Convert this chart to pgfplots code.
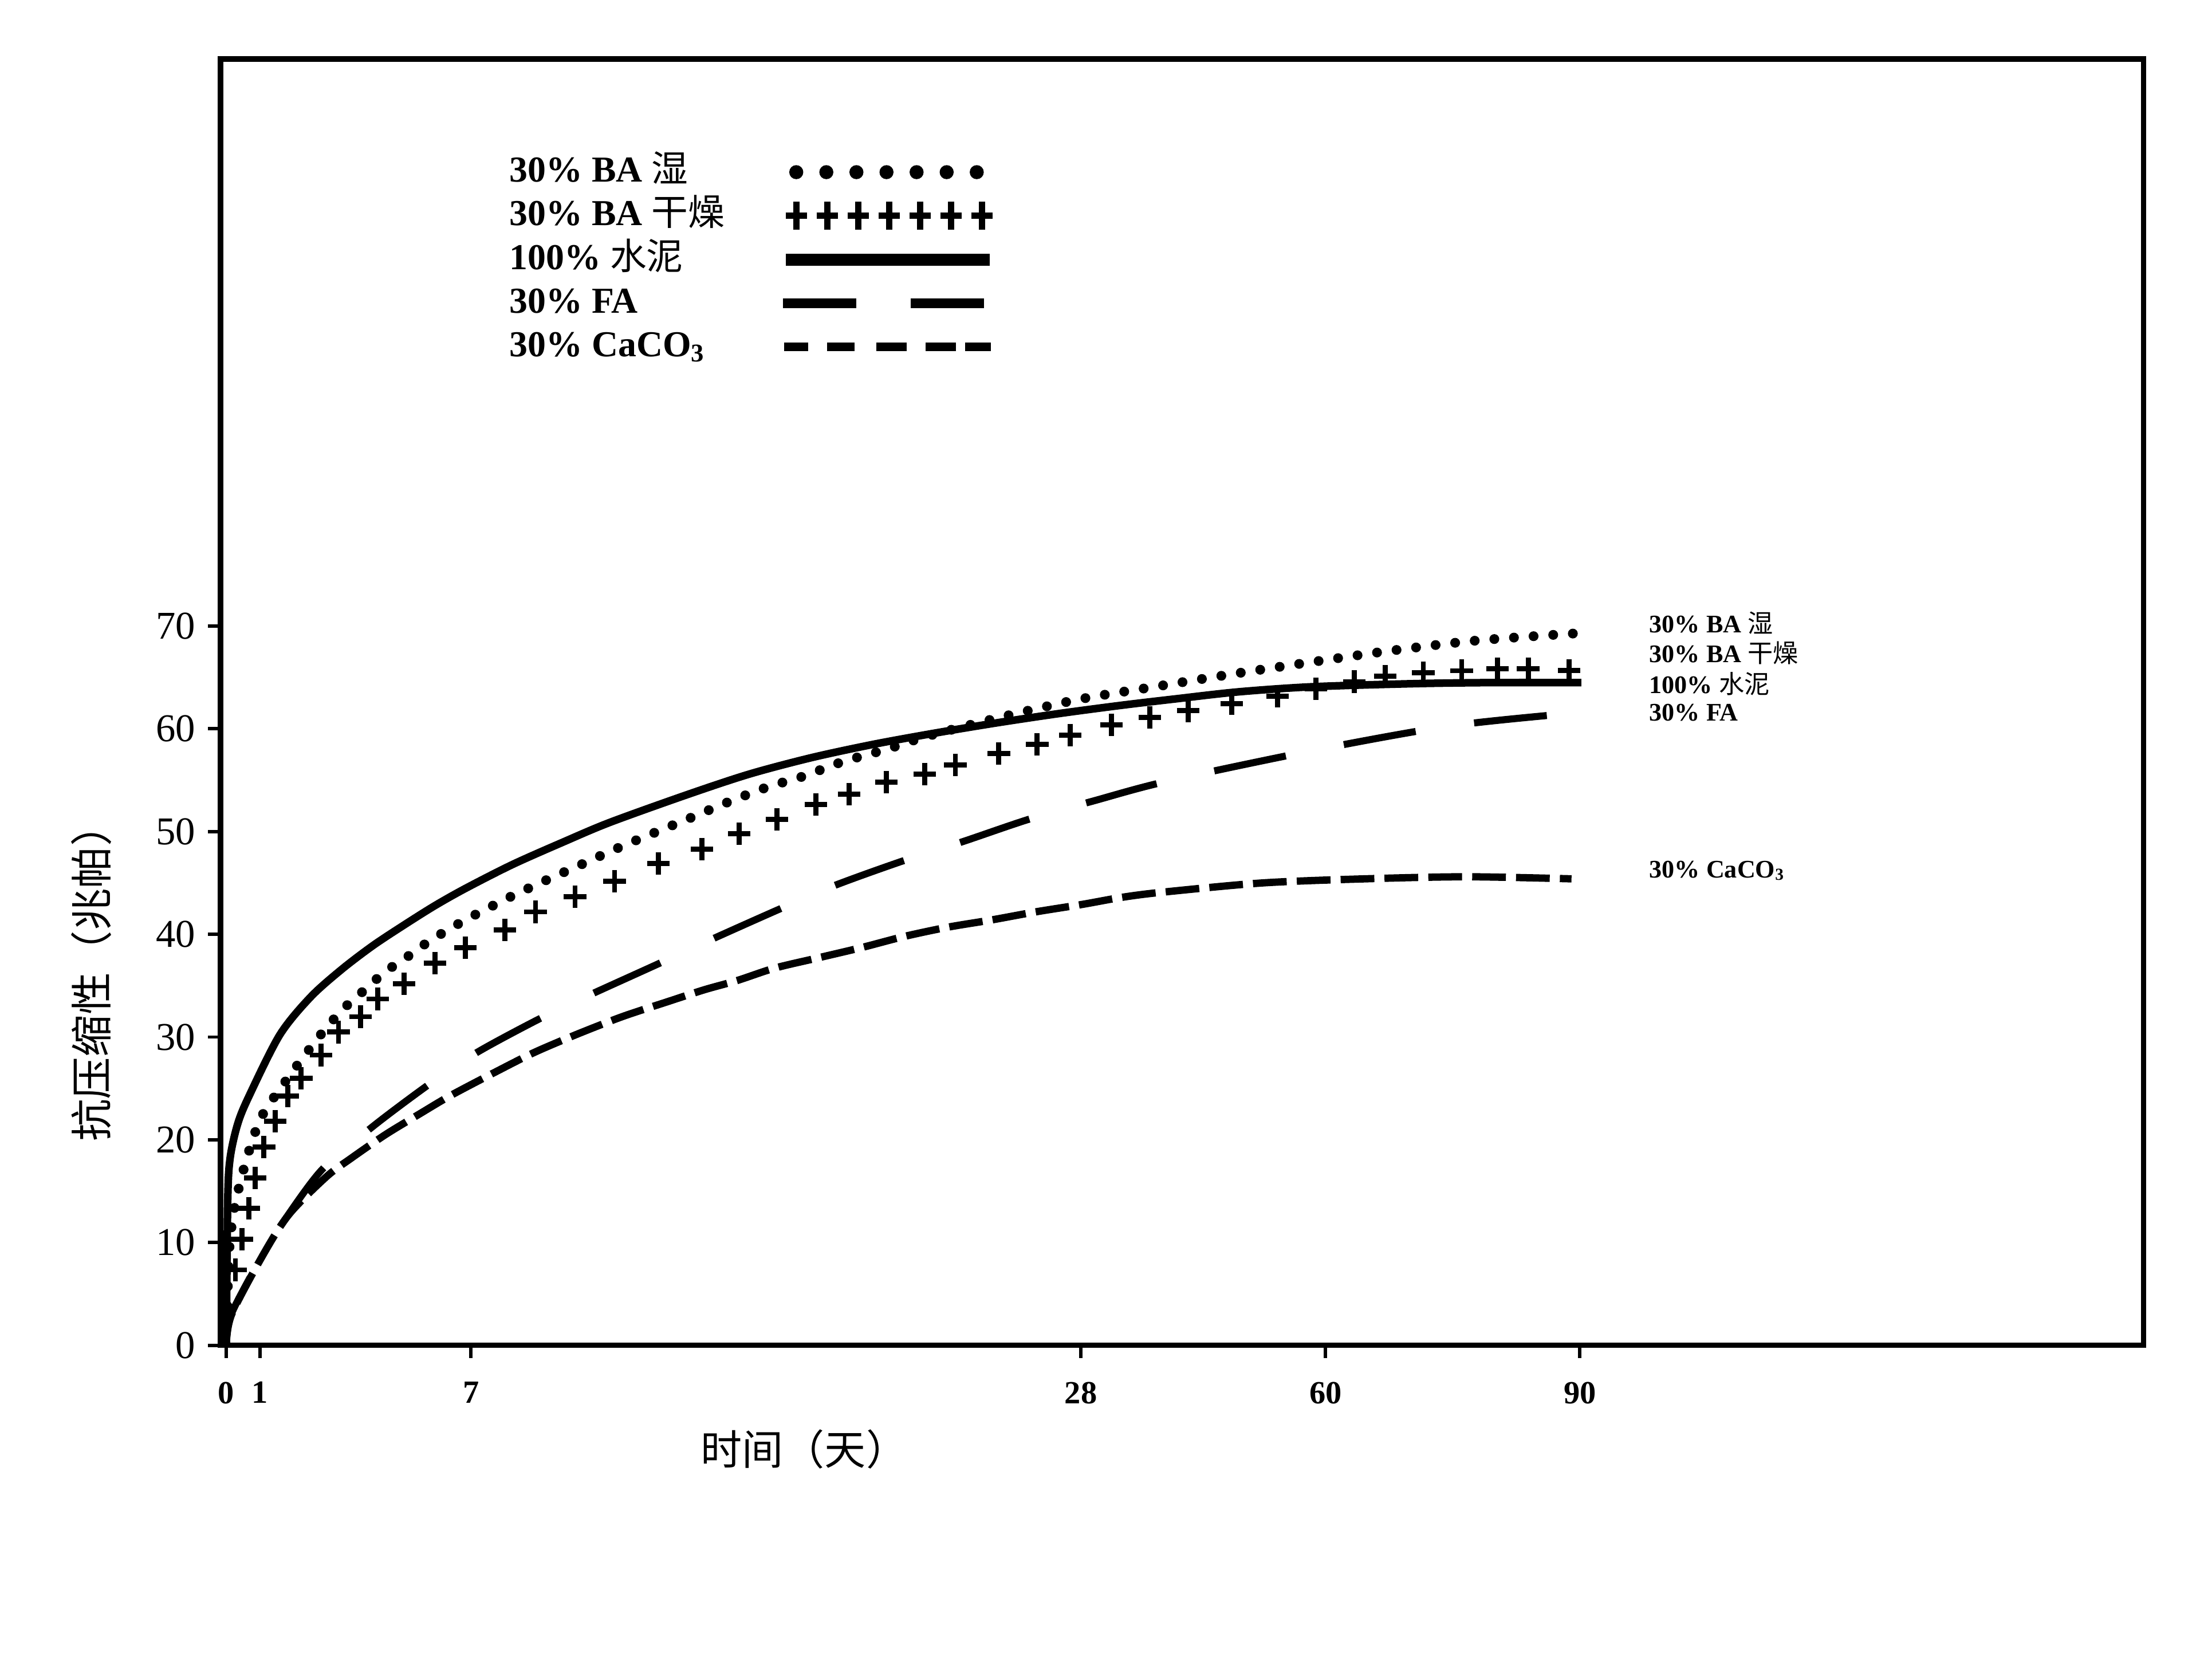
\documentclass[border=0pt]{standalone}
\usepackage{fontspec}
\setmainfont{Liberation Serif}
\newfontfamily\cjk{Noto Sans CJK SC}
\usepackage{pgfplots}
\pgfplotsset{compat=1.18}
\begin{document}
\begin{tikzpicture}
\useasboundingbox (0,0) rectangle (784pt,597.5pt);
\begin{axis}[
  at={(78.5pt,119pt)}, anchor=south west,
  scale only axis, width=684pt, height=457.5pt,
  xmin=-4, xmax=1364, ymin=0, ymax=125.2,
  axis line style={line width=2pt},
  xtick={0,24,174,608,782,963},
  xticklabels={0,1,7,28,60,90},
  ytick={0,10,20,30,40,50,60,70},
  yticklabels={0,10,20,30,40,50,60,70},
  xtick pos=lower, ytick pos=left,
  tick align=outside, major tick length=4.5pt,
  tick style={line width=1.2pt, black},
  xticklabel style={font=\bfseries\fontsize{11.5}{12}\selectfont, yshift=-5pt},
  yticklabel style={font=\fontsize{14}{15}\selectfont, xshift=-1pt},
  xlabel={\cjk 时间（天）},
  ylabel={\cjk 抗压缩性（兆帕）},
  every axis x label/.style={at={(rel axis cs:0.3034,-0.0809)}, anchor=center, font=\fontsize{14.7}{15}\selectfont},
  every axis y label/.style={at={(rel axis cs:-0.0673,0.2896)}, rotate=90, anchor=center, font=\fontsize{15}{16}\selectfont},
  legend plot pos=right,
  legend cell align=left,
  legend style={at={(rel axis cs:0.1499,0.9257)}, anchor=north west, draw=none, fill=none,
     font=\bfseries\fontsize{13}{14}\selectfont, inner sep=0pt, row sep=3.4pt,
     nodes={inner sep=0pt, text height=9.5pt, text depth=2.6pt},
     /tikz/every odd column/.append style={column sep=19pt}},
]
% 30% BA wet (dots)
\addplot[black, line width=3.5pt, line cap=round, dash pattern=on 0pt off 7pt, smooth, tension=0.5,
  legend image code/.code={\draw[black, line width=5pt, line cap=round, dash pattern=on 0pt off 10.7pt] (4.75pt,0pt) -- (70pt,0pt);}]
 coordinates {
 (0,0) (2,9) (6,13.5) (13.8,17.85) (22.6,21.5) (29.2,23.2) (38,24.9) (46.9,26.6) (55.7,28.2) (64.6,29.8)
 (75.6,31.6) (84.4,32.9) (94.4,34.1) (106.5,35.6) (118.7,36.9) (130.8,38.0) (144,39.3) (157.3,40.4)
 (172.8,41.6) (197,43.3) (209,44.1) (231.3,45.5) (251,46.7) (282,48.6) (331.4,51.4) (355.7,52.8)
 (384.4,54.3) (410.9,55.4) (438.5,56.8) (469.4,58.0) (499.2,59.3) (553,61.2) (607.7,62.9) (660.6,64.1)
 (718.8,65.4) (777,66.6) (828,67.6) (889.8,68.6) (960.8,69.3)};
\addlegendentry{30\% BA {\cjk\mdseries 湿}}
% 30% BA dry (plus marks)
\addplot[only marks, mark=+, mark size=4pt, mark options={line width=1.8pt, black},
  legend image code/.code={\foreach \xx in {4.75,15.75,26.75,37.75,48.75,59.75,70.75} {\draw[black, line width=2.2pt] (\xx pt-3.8pt,0pt)--(\xx pt+3.8pt,0pt) (\xx pt,-5pt)--(\xx pt,5pt);}}]
 coordinates {
 (6.5,7.34) (11.2,10.33) (15.9,13.32) (20.5,16.3) (26.8,19.29) (34.8,21.8) (43.9,24.26) (53.3,26.0)
 (67.3,28.24) (79.8,30.48) (95.4,31.98) (107.8,33.71) (126.5,35.2) (148.4,37.2) (170.2,38.7)
 (198.2,40.44) (220,42.18) (248.1,43.67) (276.2,45.17) (307.4,46.91) (338.5,48.3) (365,49.8)
 (391.6,51.2) (419.6,52.63) (443,53.63) (469.6,54.82) (496.9,55.6) (518.7,56.5) (549.6,57.6)
 (576.9,58.5) (600.5,59.4) (629.6,60.4) (657,61.1) (684.2,61.76) (715.2,62.47) (748,63.18)
 (775.2,63.89) (802.6,64.6) (824.4,65.13) (851.6,65.48) (878.9,65.66) (904.3,65.84) (926.2,65.84)
 (955.3,65.7)};
\addlegendentry{30\% BA {\cjk\mdseries 干燥}}
% 100% cement (solid)
\addplot[black, line width=2.7pt, smooth, tension=0.5,
  legend image code/.code={\draw[black, line width=4.2pt] (1pt,0pt) -- (73.5pt,0pt);}]
 coordinates {
 (0,0) (1,14) (2.7,18.2) (8,21.5) (16,24.2) (38,30.2) (60,33.9) (82.2,36.6) (104.3,38.9) (126.4,40.9)
 (148.5,42.8) (170.6,44.5) (203.7,46.8) (240,49.0) (273,50.9) (328,53.6) (372.2,55.6) (416.4,57.2)
 (460.6,58.5) (504.7,59.6) (548.9,60.6) (593,61.5) (637.2,62.3) (674.3,62.9) (720,63.6) (773,64.1)
 (846,64.4) (900,64.5) (964,64.5)};
\addlegendentry{100\% {\cjk\mdseries 水泥}}
% 30% FA (long dashes)
\addplot[black, line width=2.5pt, dash pattern=on 26pt off 21pt, smooth, tension=0.5,
  legend image code/.code={\draw[black, line width=3.4pt] (0pt,0pt) -- (27.2pt,0pt) (45.5pt,0pt) -- (72pt,0pt);}]
 coordinates {
 (0,0) (3.8,3.1) (27,9.1) (32.6,10.4) (66.8,16.9) (104.3,21.3) (146.3,25.6) (178.3,28.5) (220.3,31.6)
 (252.2,33.7) (305.3,37.0) (343.5,39.4) (391,42.3) (431.8,44.7) (480.4,47.1) (523.5,49.0) (571,51.2)
 (617.4,53.0) (669.3,54.9) (773.5,57.9) (871.7,60.3) (964,61.6)};
\addlegendentry{30\% FA}
% 30% CaCO3 (short dashes)
\addplot[black, line width=2.6pt, dash pattern=on 12pt off 3.6pt, smooth, tension=0.5,
  legend image code/.code={\draw[black, line width=3pt] (0.5pt,0pt)--(9pt,0pt) (15.8pt,0pt)--(25.5pt,0pt) (33.3pt,0pt)--(44pt,0pt) (50.8pt,0pt)--(61.5pt,0pt) (64.8pt,0pt)--(74pt,0pt);}]
 coordinates {
 (0,0) (3.8,3.0) (27,9.0) (45,12.8) (71.2,16.4) (88.8,18.2) (113.2,20.5) (138.5,22.6) (159.5,24.3)
 (191.5,26.6) (219.1,28.5) (250,30.3) (282,32.0) (313,33.4) (340,34.6) (363.4,35.5) (389.9,36.7)
 (420.8,37.7) (451.7,38.7) (482.6,39.8) (513.6,40.7) (544.5,41.4) (576.5,42.2) (608.5,42.9)
 (637.2,43.6) (666,44.1) (737,45.0) (810,45.4) (882.6,45.6) (957,45.4)};
\addlegendentry{30\% CaCO\textsubscript{3}}
\begin{scope}[every node/.style={anchor=west, font=\bfseries\fontsize{9}{9.5}\selectfont, inner sep=0pt}]
\node at (axis cs:1012,70.3) {30\% BA {\cjk\mdseries 湿}};
\node at (axis cs:1012,67.4) {30\% BA {\cjk\mdseries 干燥}};
\node at (axis cs:1012,64.4) {100\% {\cjk\mdseries 水泥}};
\node at (axis cs:1012,61.6) {30\% FA};
\node at (axis cs:1012,46.2) {30\% CaCO\textsubscript{3}};
\end{scope}
\end{axis}
\end{tikzpicture}
\end{document}
